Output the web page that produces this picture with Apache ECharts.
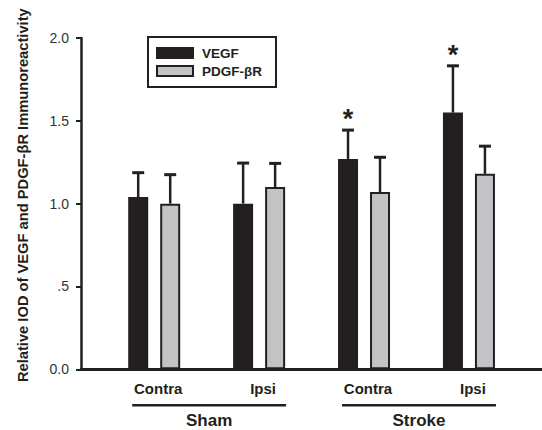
<!DOCTYPE html>
<html>
<head>
<meta charset="utf-8">
<script src="https://cdn.jsdelivr.net/npm/echarts@6/dist/echarts.min.js"></script>
<style>
html,body{margin:0;padding:0;background:#fff;}
#chart{width:542px;height:430px;}
</style>
</head>
<body>
<div id="chart"></div>
<script>
// ---- data ----
const categories = ['Contra', 'Ipsi', 'Contra', 'Ipsi'];
const groupLabels = ['Sham', 'Stroke'];
const groupSpans = [[0, 1], [2, 3]];
const seriesNames = ['VEGF', 'PDGF-\u03b2R'];
const vegfValues = [1.04, 1.00, 1.27, 1.55];
const vegfErrors = [0.147, 0.245, 0.174, 0.282];
const pdgfValues = [1.00, 1.10, 1.07, 1.18];
const pdgfErrors = [0.175, 0.143, 0.21, 0.167];
const vegfSignificant = [false, false, true, true];
const yTickValues = [0, 0.5, 1, 1.5, 2];
const yTickLabels = ['0.0', '.5', '1.0', '1.5', '2.0'];
const yAxisTitle = 'Relative IOD of VEGF and PDGF-\u03b2R Immunoreactivity';

// ---- styles ----
const INK = '#231f20';
const GRAY = '#c1c3c5';
const FONT = 'Liberation Sans, Arial, Helvetica, sans-serif';
const BAR_W = 20;
const BAR_GAP = 0.6;
const TOP = 38, BOTTOM = 60.7;

const chart = echarts.init(document.getElementById('chart'), null, {renderer: 'svg'});

// error bar data: [categoryIndex, value, error, seriesIdx, significant]
const errData = [];
vegfValues.forEach((v, i) => errData.push([i, v, vegfErrors[i], 0, vegfSignificant[i] ? 1 : 0]));
pdgfValues.forEach((v, i) => errData.push([i, v, pdgfErrors[i], 1, 0]));

const groupData = groupSpans.map((s, i) => [s[0], s[1], 0, i]);

const option = {
  backgroundColor: '#fff',
  animation: false,
  grid: [
    {left: 81, right: 0, top: TOP, bottom: BOTTOM},
    {left: 101.75, right: 20.6, top: TOP, bottom: BOTTOM}
  ],
  legend: {
    data: seriesNames,
    orient: 'vertical',
    left: 148, top: 37,
    icon: 'rect',
    itemWidth: 36, itemHeight: 10,
    itemGap: 4,
    padding: [9, 14, 9, 8],
    borderColor: INK, borderWidth: 2, borderRadius: 0,
    backgroundColor: '#fff',
    textStyle: {fontFamily: FONT, fontWeight: 'bold', fontSize: 13.5, color: INK, padding: [0, 0, 0, 4]}
  },
  xAxis: [
    {type: 'value', gridIndex: 0, min: 0, max: 1,
     axisLine: {show: true, onZero: false, lineStyle: {color: INK, width: 3}},
     axisTick: {show: false}, axisLabel: {show: false}, splitLine: {show: false}},
    {type: 'category', gridIndex: 1, data: categories,
     axisLine: {show: false}, axisTick: {show: false}, splitLine: {show: false},
     axisLabel: {fontFamily: FONT, fontWeight: 'bold', fontSize: 15, color: INK, margin: 12, padding: [0, 0, 0, 8]}}
  ],
  yAxis: [
    {type: 'value', gridIndex: 0, min: 0, max: 2, interval: 0.5,
     axisLine: {show: true, lineStyle: {color: INK, width: 2.5}},
     axisTick: {show: true, length: 5, inside: false, lineStyle: {color: INK, width: 2}},
     splitLine: {show: false},
     axisLabel: {fontFamily: FONT, fontSize: 14, color: '#333', margin: 12,
       formatter: v => { const k = yTickValues.indexOf(v); return k >= 0 ? yTickLabels[k] : ''; }},
     name: yAxisTitle, nameLocation: 'middle', nameGap: 51,
     nameTextStyle: {fontFamily: FONT, fontWeight: 'bold', fontSize: 14.7, color: INK, padding: [0, 0, 0, 17]}},
    {type: 'value', gridIndex: 1, min: 0, max: 2, show: false}
  ],
  series: [
    {name: seriesNames[0], type: 'bar', xAxisIndex: 1, yAxisIndex: 1, data: vegfValues,
     barWidth: BAR_W, barGap: (BAR_GAP * 100) + '%',
     itemStyle: {color: INK, borderColor: INK, borderWidth: 2}},
    {name: seriesNames[1], type: 'bar', xAxisIndex: 1, yAxisIndex: 1, data: pdgfValues,
     barWidth: BAR_W, barGap: (BAR_GAP * 100) + '%',
     itemStyle: {color: GRAY, borderColor: INK, borderWidth: 2}},
    {type: 'custom', xAxisIndex: 1, yAxisIndex: 1, data: errData, z: 1,
     encode: {x: 0, y: 1}, silent: true,
     renderItem: function (params, api) {
       const idx = api.value(0), v = api.value(1), e = api.value(2), s = api.value(3), sig = api.value(4);
       const off = (s - 0.5) * BAR_W * (1 + BAR_GAP);
       const p0 = api.coord([idx, v]);
       const p1 = api.coord([idx, v + e]);
       const x = p0[0] + off;
       const children = [
         {type: 'line', shape: {x1: x, y1: p0[1], x2: x, y2: p1[1]}, style: {stroke: INK, lineWidth: 2.5}},
         {type: 'line', shape: {x1: x - 6, y1: p1[1], x2: x + 6, y2: p1[1]}, style: {stroke: INK, lineWidth: 3}}
       ];
       if (sig) {
         children.push({type: 'text', x: x, y: p1[1] - 11,
           style: {text: '*', fill: INK, font: 'bold 27px ' + FONT, align: 'center', verticalAlign: 'middle'}});
       }
       return {type: 'group', children: children};
     }},
    {type: 'custom', xAxisIndex: 1, yAxisIndex: 1, data: groupData, clip: false, silent: true,
     encode: {x: [0, 1], y: 2},
     renderItem: function (params, api) {
       const a = api.coord([api.value(0), 0]);
       const b = api.coord([api.value(1), 0]);
       const x1 = a[0] - 22, x2 = b[0] + 27;
       const y = a[1] + 36;
       return {type: 'group', children: [
         {type: 'line', shape: {x1: x1, y1: y, x2: x2, y2: y}, style: {stroke: INK, lineWidth: 2.5}},
         {type: 'text', x: (x1 + x2) / 2, y: y + 15.5,
          style: {text: groupLabels[api.value(3)], fill: INK, font: 'bold 17px ' + FONT, align: 'center', verticalAlign: 'middle'}}
       ]};
     }}
  ]
};
chart.setOption(option);
</script>
</body>
</html>
